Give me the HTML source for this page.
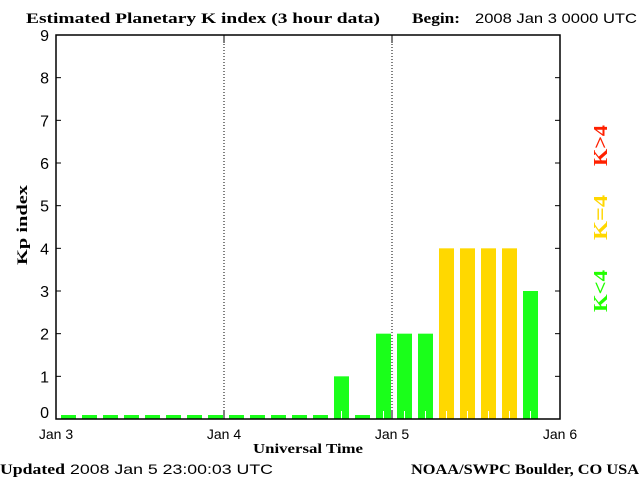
<!DOCTYPE html>
<html><head><meta charset="utf-8"><style>
body{margin:0;background:#fff;width:640px;height:480px;overflow:hidden}
svg text{font-family:"Liberation Sans",sans-serif}
.s{font-family:"Liberation Serif",serif;font-weight:bold}
</style></head><body>
<svg id="c" width="640" height="480">
<text class="s" x="26" y="23" font-size="15" textLength="354" lengthAdjust="spacingAndGlyphs">Estimated Planetary K index (3 hour data)</text>
<text class="s" x="412" y="23" font-size="15" textLength="48" lengthAdjust="spacingAndGlyphs">Begin:</text>
<text x="475" y="23" font-size="14" textLength="162" lengthAdjust="spacingAndGlyphs">2008 Jan 3 0000 UTC</text>
<g id="bars"></g>
<g id="axes"></g>
<text class="s" x="253" y="453" font-size="14" textLength="110" lengthAdjust="spacingAndGlyphs">Universal Time</text>
<text class="s" transform="translate(27,225) rotate(-90)" font-size="15" text-anchor="middle" textLength="80" lengthAdjust="spacingAndGlyphs">Kp index</text>
<text class="s" x="0" y="474" font-size="15" textLength="65" lengthAdjust="spacingAndGlyphs">Updated</text>
<text x="70" y="474" font-size="14" textLength="203" lengthAdjust="spacingAndGlyphs">2008 Jan  5 23:00:03 UTC</text>
<text class="s" x="411" y="474" font-size="15" textLength="228" lengthAdjust="spacingAndGlyphs">NOAA/SWPC Boulder, CO USA</text>
<text class="s" transform="translate(607,166) rotate(-90)" font-size="20" fill="#ff2000" textLength="41" lengthAdjust="spacingAndGlyphs">K&gt;4</text>
<text class="s" transform="translate(607,240) rotate(-90)" font-size="20" fill="#ffd700" textLength="45" lengthAdjust="spacingAndGlyphs">K=4</text>
<text class="s" transform="translate(607,312) rotate(-90)" font-size="20" fill="#22ff00" textLength="42" lengthAdjust="spacingAndGlyphs">K&lt;4</text>
</svg>
<script>
const kpValues=[0,0,0,0,0,0,0,0, 0,0,0,0,0,1,0,2, 2,2,4,4,4,4,3];
const dayLabels=["Jan 3","Jan 4","Jan 5","Jan 6"];
const yTicks=[0,1,2,3,4,5,6,7,8,9];
const NS="http://www.w3.org/2000/svg";
const L=56,R=560,T=35,B=419;
const xs=i=>L+i*(R-L)/24;
const ys=v=>B-v*(B-T)/9;
function mk(t,a,p){const e=document.createElementNS(NS,t);for(const k in a)e.setAttribute(k,a[k]);p.appendChild(e);return e;}
const bars=document.getElementById('bars'),ax=document.getElementById('axes');
kpValues.forEach((v,i)=>{
 const x0=xs(i)+5,w=15,top=v===0?B-4:ys(v);
 const col=v>4?'#ff2000':v===4?'#ffd800':'#1aff1a';
 const r=mk('rect',{x:x0,y:top,width:w,height:B-top,fill:col},bars);
 
 
 if(v>0){const t=mk('line',{x1:x0+7.5,x2:x0+7.5,y1:B-8,y2:B,stroke:'#fff','stroke-width':1},bars);
 
 }
});
const f=mk('rect',{x:L,y:T,width:R-L,height:B-T,fill:'none',stroke:'#000','stroke-width':1.5},ax);


dayLabels.forEach((d,i)=>{
 const x=L+i*(R-L)/3;
 if(i>0&&i<3){const g=mk('line',{x1:x,x2:x,y1:T,y2:B,stroke:'#000','stroke-dasharray':'1,2'},ax);
 
 
 mk('line',{x1:x,x2:x,y1:B-8,y2:B,stroke:'#000'},ax);mk('line',{x1:x,x2:x,y1:T,y2:T+8,stroke:'#000'},ax);}
 const t=mk('text',{x:x,y:B+20,'font-size':14,'text-anchor':'middle'},ax);t.textContent=d;
 
 
});
yTicks.forEach(v=>{
 const y=ys(v);
 mk('line',{x1:L,x2:L+5,y1:y,y2:y,stroke:'#000'},ax);mk('line',{x1:R-5,x2:R,y1:y,y2:y,stroke:'#000'},ax);
 const t=mk('text',{x:L-7,y:v===0?y-1:y+6,'font-size':16,'text-anchor':'end'},ax);t.textContent=v;
 
 
});
</script>
</body></html>
